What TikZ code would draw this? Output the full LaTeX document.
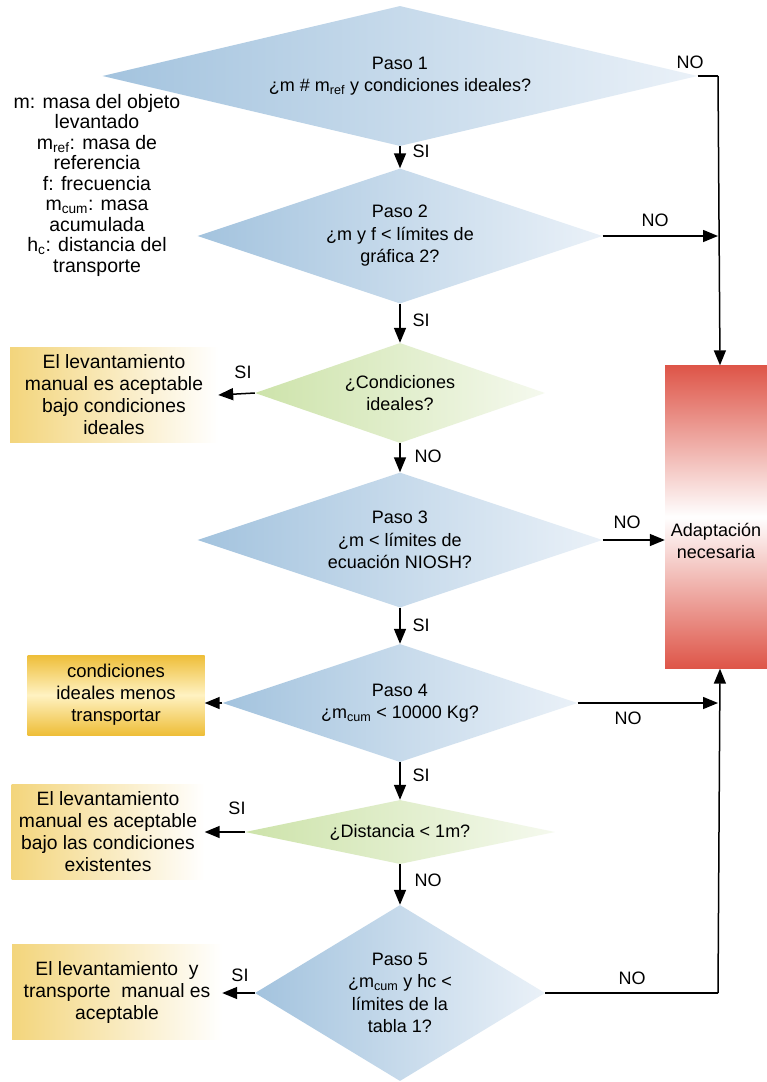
\documentclass[tikz,border=0pt]{standalone}
\usepackage{fontspec}
\setmainfont{Liberation Sans}
\usetikzlibrary{shapes.geometric,arrows.meta}
\definecolor{dblue}{HTML}{A3C3DE}
\definecolor{lblue}{HTML}{EAF1F8}
\definecolor{dgreen}{HTML}{CDE3AA}
\definecolor{lgreen}{HTML}{F5F9EE}
\definecolor{dyel}{HTML}{F3D57C}
\definecolor{dorange}{HTML}{EEBE38}
\definecolor{lorange}{HTML}{FFF2C2}
\definecolor{dred}{HTML}{DE5548}
\tikzset{
  dia/.style={diamond, inner sep=0pt, align=center, draw=none,
    font=\fontsize{18}{22.5}\selectfont},
  bluedia/.style={dia, left color=dblue, right color=lblue},
  greendia/.style={dia, left color=dgreen, right color=lgreen},
  resbox/.style={rectangle, align=center, inner sep=2pt, draw=none,
    left color=dyel, right color=white, font=\fontsize{19.3}{22}\selectfont},
  arr/.style={line width=1.5pt, -{Triangle[length=15pt,width=12pt]}},
  ln/.style={line width=1.5pt},
  lbl/.style={font=\fontsize{18}{20}\selectfont, inner sep=1pt},
}
\begin{document}
\begin{tikzpicture}[x=1pt,y=-1pt]
\useasboundingbox (0,0) rectangle (767,1082);
\clip (0,0) rectangle (767,1082);
\fill[white] (0,0) rectangle (767,1082);

% red box
\node[rectangle, minimum width=110, minimum height=303, inner sep=0pt,
  top color=dred, bottom color=dred, middle color=white] (red) at (720,517) {};
\node[font=\fontsize{18}{22}\selectfont, align=center] (redtxt) at (716,541) {Adaptación\\necesaria};

% legend
\node[align=center, font=\fontsize{19.5}{20.5}\selectfont] (legend) at (97,185)
 {m: masa del objeto\\levantado\\m\textsubscript{ref}: masa de\\referencia\\f: frecuencia\\m\textsubscript{cum}: masa\\acumulada\\h\textsubscript{c}: distancia del\\transporte};

% diamonds
\node[bluedia, minimum width=595, minimum height=140, shape aspect=4.25] (d1) at (400,76)
 {Paso 1\\¿m \# m\textsubscript{ref} y condiciones ideales?};
\node[bluedia, minimum width=405, minimum height=135, shape aspect=3] (d2) at (400,236)
 {Paso 2\\¿m y f < límites de\\gráfica 2?};
\node[greendia, minimum width=290, minimum height=100, shape aspect=2.9] (d3) at (400,393)
 {¿Condiciones\\ideales?};
\node[bluedia, minimum width=405, minimum height=135, shape aspect=3] (d4) at (400,540)
 {Paso 3\\¿m < límites de\\ecuación NIOSH?};
\node[bluedia, minimum width=355, minimum height=118, shape aspect=3] (d5) at (400,703)
 {Paso 4\\¿m\textsubscript{cum} < 10000 Kg?};
\node[greendia, minimum width=310, minimum height=64, shape aspect=4.84] (d6) at (400,832)
 {¿Distancia < 1m?};
\node[bluedia, minimum width=290, minimum height=176, shape aspect=1.65] (d7) at (400,993)
 {Paso 5\\¿m\textsubscript{cum} y hc <\\límites de la\\tabla 1?};

% result boxes
\node[resbox, minimum width=208, minimum height=95] (b1) at (114,395)
 {El levantamiento\\manual es aceptable\\bajo condiciones\\ideales};
\node[resbox, minimum width=177, minimum height=80, font=\fontsize{18.5}{22}\selectfont,
  top color=dorange, bottom color=dorange, middle color=lorange] (b2) at (116,695)
 {condiciones\\ideales menos\\transportar};
\node[resbox, minimum width=193, minimum height=95] (b3) at (108,832)
 {El levantamiento\\manual es aceptable\\bajo las condiciones\\existentes};
\node[resbox, minimum width=210, minimum height=95] (b4) at (117,992)
 {El levantamiento \ y\\transporte \ manual es\\aceptable};

% right column coordinates
\coordinate (c1) at (718,76);
\coordinate (c2) at (718,236);
\coordinate (c5) at (718,703);
\coordinate (c7) at (718,993);

% connectors
\draw[ln] (d1.east) -- (c1);
\draw[arr] (c1) -- (red.north);
\node[lbl] (no1) at (690,62) {NO};
\draw[arr] (d1.south) -- (d2.north);
\node[lbl] (si1) at (421,151) {SI};

\draw[arr] (d2.east) -- (c2);
\node[lbl] (no2) at (655,220) {NO};
\draw[arr] (d2.south) -- (d3.north);
\node[lbl] (si2) at (421,320) {SI};

\draw[arr] (d3.west) -- (b1.east);
\node[lbl] (si3) at (243,372) {SI};
\draw[arr] (d3.south) -- (d4.north);
\node[lbl] (no3) at (428,456) {NO};

\draw[arr] (d4.east) -- (red.west |- d4.east);
\node[lbl] (no4) at (627,522) {NO};
\draw[arr] (d4.south) -- (d5.north);
\node[lbl] (si4) at (421,625) {SI};

\draw[arr] (d5.west) -- (b2.east |- d5.west);
\draw[arr] (d5.east) -- (c5);
\node[lbl] (no5) at (628,718) {NO};
\draw[arr] (d5.south) -- (d6.north);
\node[lbl] (si5) at (421,775) {SI};

\draw[arr] (d6.west) -- (b3.east |- d6.west);
\node[lbl] (si6) at (237,808) {SI};
\draw[arr] (d6.south) -- (d7.north);
\node[lbl] (no6) at (428,880) {NO};

\draw[arr] (d7.west) -- (b4.east |- d7.west);
\node[lbl] (si7) at (240,975) {SI};
\draw[ln] (d7.east) -- (c7);
\draw[arr] (c7) -- (red.south);
\node[lbl] (no7) at (632,978) {NO};
\end{tikzpicture}
\end{document}
